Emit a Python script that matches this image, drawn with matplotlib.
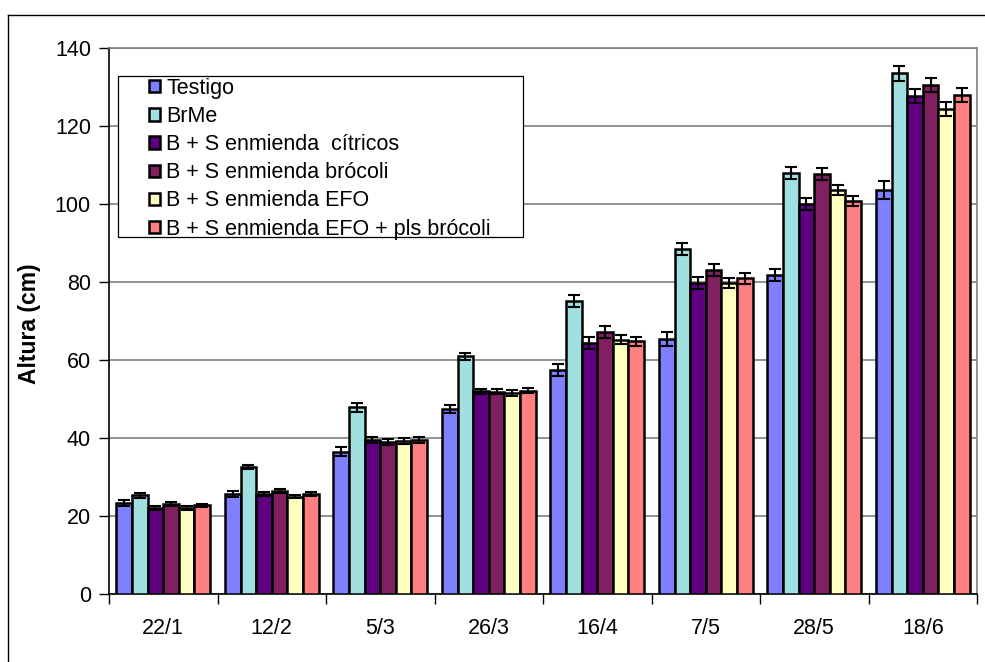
import matplotlib
matplotlib.use("Agg")
import matplotlib.pyplot as plt
from matplotlib.lines import Line2D
from matplotlib.patches import Rectangle
import numpy as np

plt.rcParams['font.family'] = ['Liberation Sans', 'DejaVu Sans']

fechas = ["22/1", "12/2", "5/3", "26/3", "16/4", "7/5", "28/5", "18/6"]

tratamientos = [
    "Testigo",
    "BrMe",
    "B + S enmienda  cítricos",
    "B + S enmienda brócoli",
    "B + S enmienda EFO",
    "B + S enmienda EFO + pls brócoli",
]

colores = ["#8080FF", "#A0E0E0", "#600080", "#802060", "#FFFFC0", "#FF8080"]

testigo = [23.3, 25.6, 36.5, 47.4, 57.4, 65.3, 81.8, 103.6]
brme = [25.3, 32.6, 47.9, 60.9, 75.2, 88.5, 108.0, 133.5]
citricos = [22.0, 25.6, 39.4, 52.0, 64.3, 79.8, 100.0, 127.6]
brocoli = [23.1, 26.3, 38.9, 51.9, 67.2, 83.1, 107.7, 130.5]
efo = [22.1, 25.0, 39.3, 51.5, 65.2, 79.7, 103.6, 124.3]
efo_pls = [22.7, 25.7, 39.4, 52.1, 64.8, 80.9, 100.8, 128.0]

err_testigo = [0.8, 0.8, 1.2, 1.0, 1.5, 1.8, 1.5, 2.4]
err_brme = [0.6, 0.6, 1.2, 0.8, 1.5, 1.6, 1.5, 2.0]
err_citricos = [0.5, 0.5, 0.8, 0.6, 1.5, 1.5, 1.5, 1.8]
err_brocoli = [0.5, 0.5, 0.8, 0.6, 1.5, 1.5, 1.5, 1.8]
err_efo = [0.5, 0.5, 0.8, 0.8, 1.2, 1.3, 1.3, 1.8]
err_efo_pls = [0.5, 0.5, 0.8, 0.6, 1.2, 1.5, 1.3, 1.8]

series = [testigo, brme, citricos, brocoli, efo, efo_pls]
errores = [err_testigo, err_brme, err_citricos, err_brocoli, err_efo, err_efo_pls]

fig = plt.figure(figsize=(9.85, 6.62), dpi=100)
W, H = 985, 662
AX_L, AX_R, AX_T, AX_B = 109, 977, 48, 594
ax = fig.add_axes([AX_L / W, 1 - AX_B / H, (AX_R - AX_L) / W, (AX_B - AX_T) / H])
AW, AH = AX_R - AX_L, AX_B - AX_T


def ax_xy(px, py):
    """Pixel position in the figure -> axes fraction."""
    return (px - AX_L) / AW, 1 - (py - AX_T) / AH


# outer chart frame (left and top edges visible)
fig.add_artist(Line2D([8 / W, 8 / W], [0, 1 - 15 / H], color="black", lw=1.0, transform=fig.transFigure))
fig.add_artist(Line2D([8 / W, 1], [1 - 15 / H, 1 - 15 / H], color="black", lw=1.0, transform=fig.transFigure))

n = len(series)
x = np.arange(len(fechas))
ancho = 0.862 / n
for i, (vals, errs, col, lab) in enumerate(zip(series, errores, colores, tratamientos)):
    pos = x - 0.431 + ancho * (i + 0.5)
    ax.bar(pos, vals, width=ancho, color=col, edgecolor="black", linewidth=1.8,
           label=lab, zorder=3)
    ax.errorbar(pos, vals, yerr=errs, fmt="none", ecolor="black", elinewidth=1.5,
                capsize=4.2, capthick=1.5, zorder=4)

ax.set_xlim(-0.5, len(fechas) - 0.5)
ax.set_ylim(0, 140)
ax.set_yticks(np.arange(0, 141, 20))
ax.set_xticks(x)
ax.set_xticklabels(fechas)
ax.set_xticks(np.arange(-0.5, len(fechas)), minor=True)
ax.tick_params(axis="x", which="major", length=0, pad=17, labelsize=15.5)
ax.tick_params(axis="x", which="minor", length=7, width=1.0, direction="out", color="black")
ax.tick_params(axis="y", length=7, width=1.0, direction="out", labelsize=15.5, pad=6)

ax.yaxis.grid(True, color="#808080", linewidth=1.2, zorder=0)
ax.set_axisbelow(True)

for s in ["left", "bottom"]:
    ax.spines[s].set_color("black")
    ax.spines[s].set_linewidth(1.2)
for s in ["top", "right"]:
    ax.spines[s].set_color("#808080")
    ax.spines[s].set_linewidth(1.2)

ax.set_ylabel("Altura (cm)", fontsize=16.5, fontweight="bold")
ax.yaxis.set_label_coords(*ax_xy(41, 324))

# legend box with white fill, covering the gridlines behind it
x0, y0 = ax_xy(118, 237)
x1, y1 = ax_xy(523, 76)
ax.add_patch(Rectangle((x0, y0), x1 - x0, y1 - y0, transform=ax.transAxes,
                       facecolor="white", edgecolor="black", linewidth=0.9, zorder=5))

leg = ax.legend(loc="upper left", bbox_to_anchor=ax_xy(149, 78), frameon=False,
                fontsize=15.5, handlelength=0.5, handleheight=0.5, handletextpad=0.3,
                labelspacing=0.33, borderpad=0, borderaxespad=0)
leg.set_zorder(6)
for h in leg.legend_handles:
    h.set_linewidth(1.8)

fig.savefig("out.png", dpi=100)
